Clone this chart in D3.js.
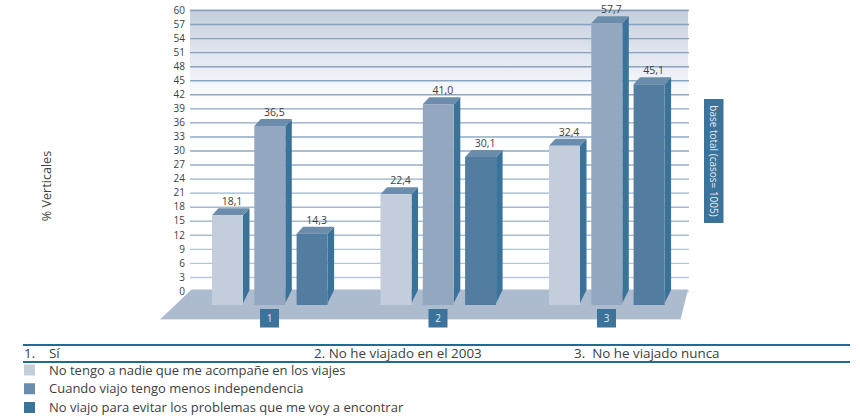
<!DOCTYPE html>
<html><head><meta charset="utf-8">
<script src="https://cdn.jsdelivr.net/npm/d3@7"></script>
<style>html,body{margin:0;padding:0;background:#fff}svg{display:block}text{font-family:"Open Sans",sans-serif}</style>
</head><body><svg id="c" width="860" height="417"></svg>
<script>
const categories = ["1","2","3"];
const seriesNames = ["No tengo a nadie que me acompañe en los viajes","Cuando viajo tengo menos independencia","No viajo para evitar los problemas que me voy a encontrar"];
const serie1 = [18.1,22.4,32.4];
const serie2 = [36.5,41.0,57.7];
const serie3 = [14.3,30.1,45.1];
const tickValues = d3.range(0,61,3);
const tableLabels = ["Sí","2. No he viajado en el 2003","3.  No he viajado nunca"];
const faceColors = ["#c3cddb","#94a7c0","#527da0"];
const legendColors = ["#c3cddb","#6b8cad","#3b739a"];
const series = [serie1,serie2,serie3];

const svg = d3.select("#c");
const fmt = v => v.toFixed(1).replace(".",",");
const ink = "#404040";

const defs = svg.append("defs");
const g = defs.append("linearGradient").attr("id","bg").attr("x1",0).attr("x2",0).attr("y1",0).attr("y2",1);
g.append("stop").attr("offset","0%").attr("stop-color","#c4cedb");
g.append("stop").attr("offset","50%").attr("stop-color","#e2e6ef");
g.append("stop").attr("offset","100%").attr("stop-color","#ffffff");

const gridY = d3.scaleLinear().domain([0,60]).range([291,10]);
const barY = d3.scaleLinear().domain([0,60]).range([303,12]);
const bottom = 305, depthX = 6.5, depthY = 7;
const groupX = d3.scaleBand().domain(categories).range([212,717.5]);
const innerX = d3.scaleBand().domain([0,1,2]).range([0,115.6]).paddingInner(0.267).paddingOuter(0);
const lineColor = d3.scaleLinear().domain([10,150,277]).range(["#84a0c2","#8fabc8","#b9c8da"]);

svg.append("rect").attr("x",190).attr("y",9.5).attr("width",498).attr("height",92).attr("fill","url(#bg)");

const axis = d3.axisLeft(gridY).tickValues(tickValues).tickSize(-499).tickPadding(5).tickFormat(d3.format("d"));
const ax = svg.append("g").attr("transform","translate(190,0)").call(axis);
ax.select(".domain").remove();
ax.selectAll(".tick line").attr("stroke",d=>lineColor(gridY(d))).attr("stroke-width",1.4);
ax.selectAll(".tick text").attr("fill",ink).style("font-size","10px").style("font-family",'"Open Sans",sans-serif');

// floor
svg.append("polygon").attr("points","191.5,289.5 688,289.5 680.5,319.5 160,319.5").attr("fill","#adbbce");
svg.append("line").attr("x1",160).attr("x2",680.5).attr("y1",319.5).attr("y2",319.5).attr("stroke","#dfe4ec");

// bars
categories.forEach((c,ci)=>{
  const gr = svg.append("g").attr("transform",`translate(${groupX(c)},0)`);
  series.forEach((s,si)=>{
    const v = s[ci], x = innerX(si), w = innerX.bandwidth(), top = barY(v);
    gr.append("polygon").attr("points",[[x+w,top],[x+w+depthX,top-depthY],[x+w+depthX,290],[x+w,bottom-2]].join(" ")).attr("fill","#39739a");
    gr.append("polygon").attr("points",[[x,top],[x+w,top],[x+w+depthX,top-depthY],[x+depthX,top-depthY]].join(" ")).attr("fill","#6b8cab");
    gr.append("rect").attr("x",x).attr("y",top).attr("width",w).attr("height",bottom-top).attr("fill",faceColors[si]);
    gr.append("text").attr("x",x+w/2+4.5).attr("y",top-depthY-3).attr("text-anchor","middle")
      .attr("fill",ink).style("font-size","10.5px").text(fmt(v));
  });
  const cx = groupX(c)+57.5;
  svg.append("rect").attr("x",cx-9.5).attr("y",309).attr("width",19).attr("height",18.5).attr("fill","#3b739a");
  svg.append("text").attr("x",cx).attr("y",321.5).attr("text-anchor","middle").attr("fill","#e6edf3").style("font-size","10px").text(c);
});

// y title
svg.append("text").attr("transform","translate(51,186) rotate(-90)").attr("text-anchor","middle").attr("fill",ink).style("font-size","12.6px").text("% Verticales");

// side label
svg.append("rect").attr("x",704).attr("y",99).attr("width",19.5).attr("height",124).attr("fill","#3b739a");
svg.append("text").attr("transform","translate(710,161) rotate(90)").attr("text-anchor","middle").attr("fill","#e6edf3").style("font-size","10px").text("base total (casos= 1005)");

// table
[345,362].forEach(y=>svg.append("line").attr("x1",23).attr("x2",850).attr("y1",y).attr("y2",y).attr("stroke","#1d6c92").attr("stroke-width",2));
const tFont = "13.4px", lFont = "13px";
svg.append("text").attr("x",24).attr("y",357.5).attr("fill",ink).style("font-size",tFont).text("1.");
svg.append("text").attr("x",49).attr("y",357.5).attr("fill",ink).style("font-size",tFont).text(tableLabels[0]);
svg.append("text").attr("x",314).attr("y",357.5).attr("fill",ink).style("font-size",tFont).text(tableLabels[1]);
svg.append("text").attr("x",574).attr("y",357.5).attr("fill",ink).style("font-size",tFont).text(tableLabels[2]).attr("xml:space","preserve");

// legend
const legY = d3.scalePoint().domain([0,1,2]).range([370,407.5]);
seriesNames.forEach((n,i)=>{
  svg.append("rect").attr("x",24).attr("y",legY(i)-5.5).attr("width",11).attr("height",11).attr("fill",legendColors[i]);
  svg.append("text").attr("x",49).attr("y",legY(i)+4.5).attr("fill",ink).style("font-size",lFont).text(n);
});
</script></body></html>
